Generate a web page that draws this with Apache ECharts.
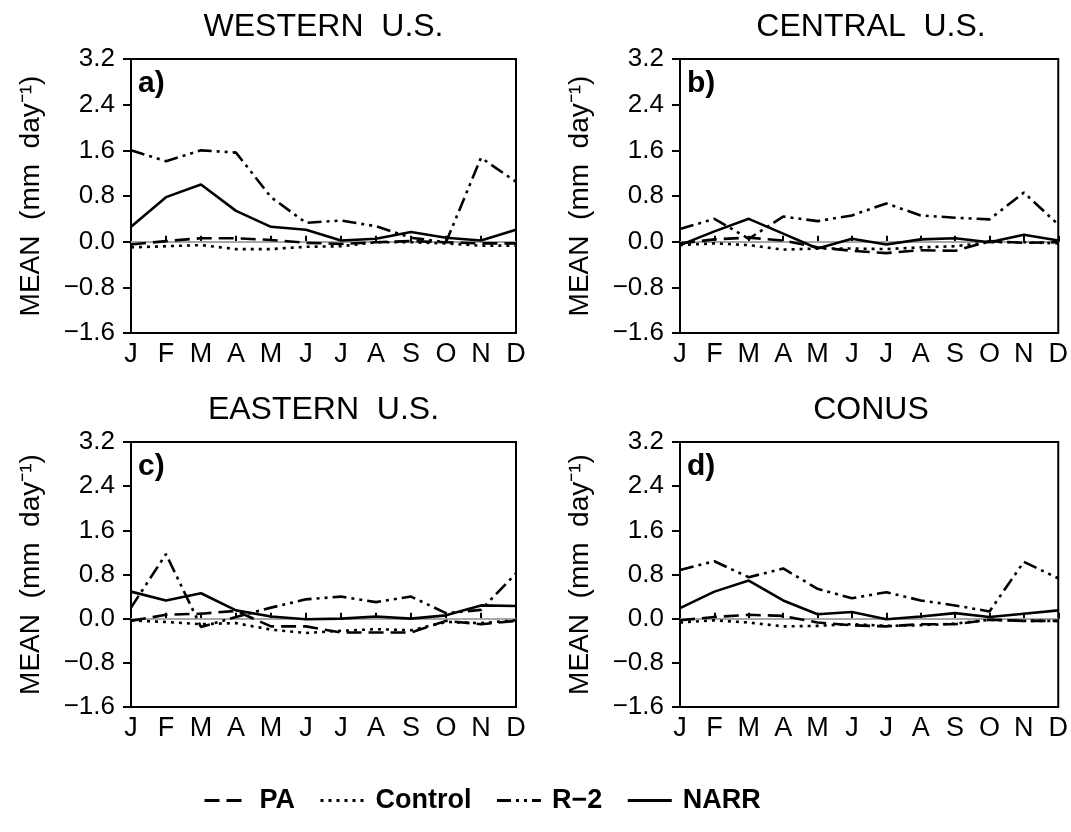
<!DOCTYPE html>
<html>
<head>
<meta charset="utf-8">
<script src="https://cdn.jsdelivr.net/npm/echarts@6/dist/echarts.min.js"></script>
<style>
  html, body { margin: 0; padding: 0; background: #fff; }
  #chart { width: 1071px; height: 832px; }
</style>
</head>
<body>
<div id="chart"></div>
<script>
// months on the x axis
var months = ['J', 'F', 'M', 'A', 'M', 'J', 'J', 'A', 'S', 'O', 'N', 'D'];
var yMin = -1.6, yMax = 3.2, yStep = 0.8;

// a) western U.S.
var westPA      = [-0.05, 0.01, 0.06, 0.06, 0.03, -0.02, -0.04, -0.01, 0.01, -0.01, -0.03, -0.03];
var westControl = [-0.10, -0.08, -0.06, -0.13, -0.13, -0.09, -0.08, -0.01, -0.01, -0.03, -0.07, -0.07];
var westR2      = [1.60, 1.41, 1.60, 1.56, 0.78, 0.33, 0.37, 0.27, 0.07, -0.01, 1.47, 1.05];
var westNARR    = [0.26, 0.78, 1.00, 0.54, 0.26, 0.21, 0.02, 0.05, 0.17, 0.07, 0.02, 0.21];

// b) central U.S.
var centralPA      = [-0.03, 0.04, 0.07, 0.02, -0.10, -0.16, -0.20, -0.15, -0.16, 0.01, -0.02, -0.01];
var centralControl = [-0.06, -0.03, -0.06, -0.14, -0.12, -0.12, -0.13, -0.10, -0.08, -0.01, -0.01, -0.03];
var centralR2      = [0.22, 0.40, 0.05, 0.44, 0.36, 0.46, 0.67, 0.46, 0.42, 0.39, 0.86, 0.30];
var centralNARR    = [-0.06, 0.18, 0.40, 0.14, -0.12, 0.05, -0.05, 0.04, 0.06, -0.01, 0.12, 0.02];

// c) eastern U.S.
var eastPA      = [-0.04, 0.07, 0.09, 0.14, -0.14, -0.14, -0.25, -0.25, -0.25, -0.04, -0.10, -0.04];
var eastControl = [-0.03, -0.06, -0.10, -0.08, -0.20, -0.26, -0.22, -0.19, -0.21, -0.06, -0.08, -0.03];
var eastR2      = [0.20, 1.17, -0.15, 0.03, 0.20, 0.35, 0.40, 0.30, 0.40, 0.10, 0.16, 0.82];
var eastNARR    = [0.49, 0.33, 0.46, 0.15, 0.04, -0.01, 0.00, 0.04, 0.00, 0.06, 0.24, 0.23];

// d) CONUS
var conusPA      = [-0.03, 0.03, 0.07, 0.05, -0.07, -0.12, -0.14, -0.10, -0.10, -0.02, -0.04, -0.04];
var conusControl = [-0.07, -0.03, -0.07, -0.14, -0.13, -0.10, -0.13, -0.12, -0.09, -0.02, -0.04, -0.04];
var conusR2      = [0.88, 1.04, 0.75, 0.91, 0.54, 0.37, 0.48, 0.33, 0.24, 0.13, 1.03, 0.73];
var conusNARR    = [0.19, 0.49, 0.69, 0.33, 0.08, 0.12, -0.01, 0.04, 0.10, 0.03, 0.09, 0.15];

var panelTitles = ['WESTERN  U.S.', 'CENTRAL  U.S.', 'EASTERN  U.S.', 'CONUS'];
var panelLetters = ['a)', 'b)', 'c)', 'd)'];
var seriesNames = ['PA', 'Control', 'R\u22122', 'NARR'];

var panelData = [
  [westPA, westControl, westR2, westNARR],
  [centralPA, centralControl, centralR2, centralNARR],
  [eastPA, eastControl, eastR2, eastNARR],
  [conusPA, conusControl, conusR2, conusNARR]
];

var font = 'Liberation Sans, Arial, sans-serif';
var dashes = [[15, 7], [3, 5], [14, 5, 3, 5, 3, 5], 'solid'];

var grids = [
  { left: 131, top: 59, width: 385, height: 274 },
  { left: 680, top: 59, width: 382, height: 274 },
  { left: 131, top: 442, width: 385, height: 265 },
  { left: 680, top: 442, width: 382, height: 265 }
];

var chart = echarts.init(document.getElementById('chart'));

var xAxes = [], yAxes = [], series = [], graphics = [];
grids.forEach(function(g, i) {
  g.show = true;
  g.borderColor = '#000';
  g.borderWidth = 2;
  xAxes.push({
    type: 'category',
    gridIndex: i,
    data: months,
    boundaryGap: false,
    axisLine: { lineStyle: { color: '#000', width: 2 } },
    axisTick: { inside: true, length: 6, lineStyle: { color: '#000', width: 2 } },
    axisLabel: { color: '#000', fontSize: 27, fontFamily: font, margin: 8, interval: 0 },
    splitLine: { show: false }
  });
  yAxes.push({
    type: 'value',
    gridIndex: i,
    min: yMin,
    max: yMax,
    interval: yStep,
    name: 'MEAN  (mm  day\u207B\u00B9)',
    nameLocation: 'middle',
    nameGap: 86,
    nameTextStyle: { color: '#000', fontSize: 28, fontFamily: font },
    axisLine: { show: true, lineStyle: { color: '#000', width: 2 } },
    axisTick: { show: true, length: 8, lineStyle: { color: '#000', width: 2 } },
    axisLabel: {
      color: '#000', fontSize: 26, fontFamily: font, margin: 16,
      formatter: function(v) { return v.toFixed(1).replace('-', '\u2212'); }
    },
    splitLine: { show: false }
  });
  panelData[i].forEach(function(vals, k) {
    var s = {
      name: seriesNames[k],
      type: 'line',
      xAxisIndex: i,
      yAxisIndex: i,
      data: vals,
      symbol: 'none',
      lineStyle: { color: '#000', width: 2.6, type: dashes[k] },
      itemStyle: { color: '#000' },
      z: 3
    };
    if (k === 0) {
      s.markLine = {
        silent: true,
        symbol: 'none',
        label: { show: false },
        lineStyle: { color: '#a8a8a8', width: 2, type: 'solid' },
        data: [{ yAxis: 0 }],
        z: 2
      };
    }
    series.push(s);
  });
  graphics.push({
    type: 'text',
    x: g.left + g.width / 2,
    y: i < 2 ? 27 : 410,
    style: {
      text: panelTitles[i], fill: '#000', font: '32px ' + font,
      textAlign: 'center', textVerticalAlign: 'middle'
    }
  });
  graphics.push({
    type: 'text',
    x: g.left + 7,
    y: g.top + 25,
    style: {
      text: panelLetters[i], fill: '#000', font: 'bold 30px ' + font,
      textAlign: 'left', textVerticalAlign: 'middle'
    }
  });
});

chart.setOption({
  animation: false,
  backgroundColor: '#fff',
  grid: grids,
  xAxis: xAxes,
  yAxis: yAxes,
  series: series,
  graphic: graphics,
  legend: {
    data: seriesNames,
    left: 198,
    top: 782,
    itemWidth: 44,
    itemHeight: 10,
    itemGap: 24,
    itemStyle: { opacity: 0 },
    lineStyle: { width: 3 },
    textStyle: { color: '#000', fontSize: 27, fontWeight: 'bold', fontFamily: font, padding: [0, 0, 0, 6] }
  }
});
</script>
</body>
</html>
